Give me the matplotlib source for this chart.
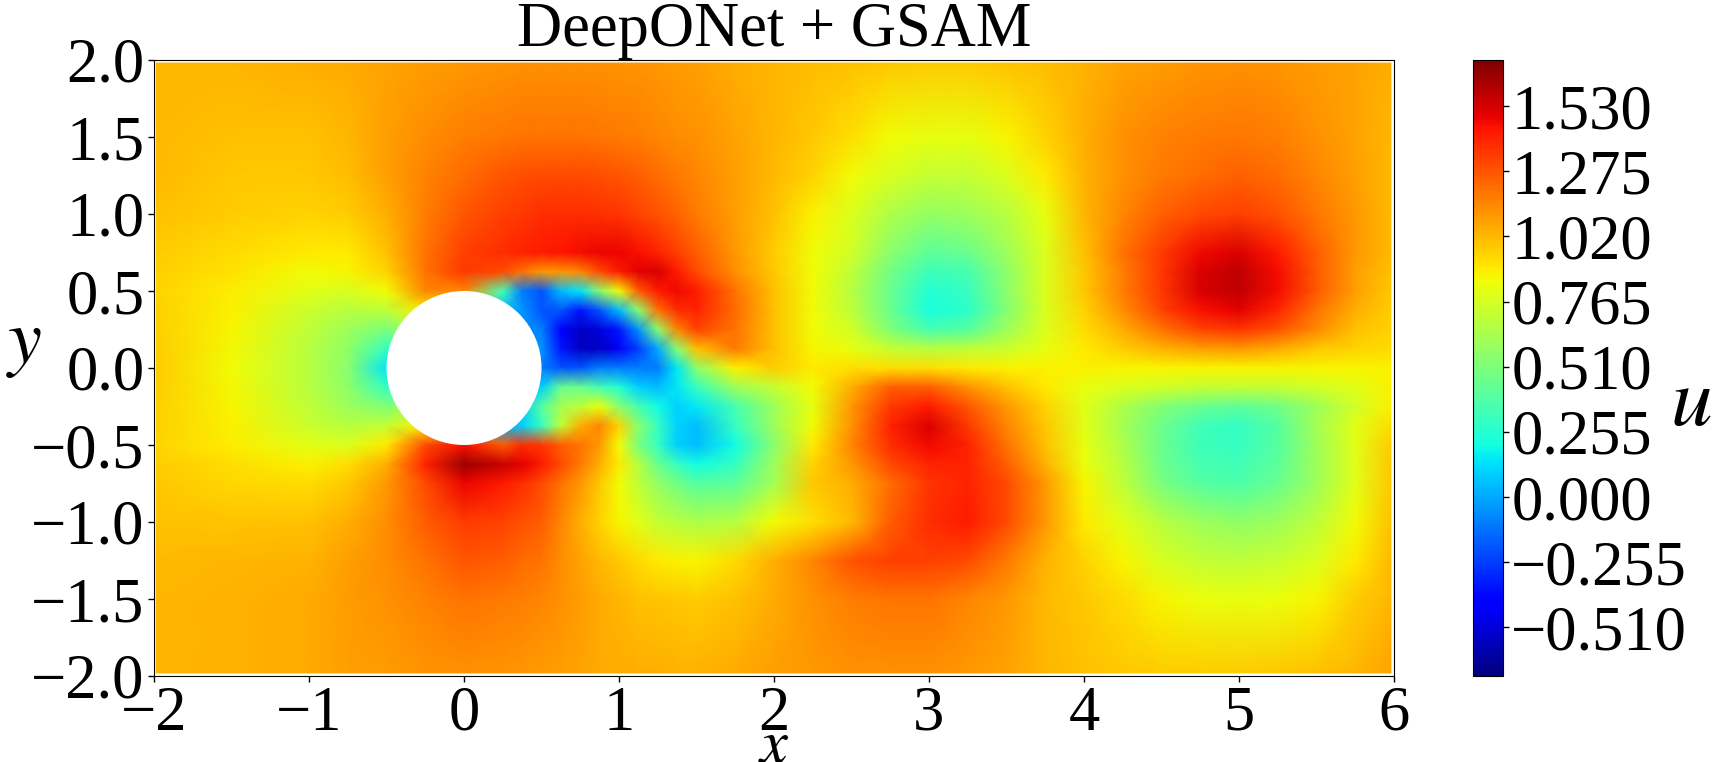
"""Velocity field u past a cylinder, DeepONet + GSAM prediction."""

import matplotlib

matplotlib.use("Agg")
import matplotlib.pyplot as plt
import numpy as np
from matplotlib.patches import Circle

plt.rcParams["font.family"] = ["Liberation Serif", "DejaVu Serif"]
plt.rcParams["mathtext.fontset"] = "stix"

# grid is finer around the cylinder and its wake, end values sit just inside the frame
x_grid = [-1.985, -1.5, -1, -0.75, -0.5, -0.25, 0, 0.25, 0.375, 0.5, 0.625, 0.75, 0.875, 1, 1.125, 1.25, 1.375, 1.5,
          1.75, 2, 2.25, 2.5, 2.75, 3, 3.25, 3.5, 3.75, 4, 4.25, 4.5, 4.75, 5, 5.25, 5.5, 5.75, 5.98]
y_grid = [1.98, 1.5, 1.25, 1, 0.75, 0.625, 0.5, 0.375, 0.25, 0.125, 0, -0.125, -0.25, -0.375, -0.5, -0.625, -0.75,
          -1, -1.25, -1.5, -1.98]

# u, one row per y_grid entry
u_rows = [
    [1.03, 1.03, 1.05, 1.06, 1.07, 1.09, 1.10, 1.11, 1.12, 1.12, 1.12, 1.12, 1.12, 1.11, 1.11, 1.10, 1.09, 1.08,
     1.05, 1.03, 1.01, 1.0, .98, .97, .97, .99, 1.01, 1.04, 1.07, 1.09, 1.11, 1.12, 1.11, 1.09, 1.07, 1.05],
    [1.02, 1.0, 1.0, 1.03, 1.08, 1.13, 1.17, 1.19, 1.2, 1.2, 1.2, 1.2, 1.19, 1.18, 1.17, 1.15, 1.13, 1.12,
     1.07, 1.03, .98, .92, .85, .82, .82, .87, .95, 1.05, 1.12, 1.16, 1.18, 1.19, 1.17, 1.12, 1.07, 1.03],
    [1.02, .98, .98, 1.01, 1.08, 1.16, 1.22, 1.27, 1.29, 1.3, 1.3, 1.3, 1.29, 1.27, 1.25, 1.22, 1.18, 1.15,
     1.08, 1.02, .95, .85, .77, .72, .72, .78, .9, 1.04, 1.12, 1.18, 1.22, 1.24, 1.22, 1.15, 1.08, 1.02],
    [1.0, .97, .95, .97, 1.05, 1.17, 1.27, 1.33, 1.35, 1.38, 1.38, 1.38, 1.37, 1.36, 1.32, 1.28, 1.23, 1.18,
     1.08, 1.0, .88, .78, .65, .58, .6, .68, .82, 1.03, 1.15, 1.24, 1.3, 1.33, 1.28, 1.19, 1.1, 1.02],
    [.97, .93, .9, .9, 1.0, 1.2, 1.33, 1.38, 1.4, 1.42, 1.44, 1.46, 1.48, 1.48, 1.45, 1.4, 1.33, 1.25,
     1.1, .97, .85, .75, .55, .42, .45, .6, .78, 1.0, 1.2, 1.34, 1.47, 1.52, 1.42, 1.25, 1.1, 1.02],
    [.96, .91, .85, .87, .95, 1.2, 1.35, 1.3, 1.2, 1.1, 1.1, 1.15, 1.3, 1.42, 1.5, 1.52, 1.42, 1.3,
     1.12, .98, .85, .7, .48, .32, .35, .56, .78, .98, 1.17, 1.35, 1.52, 1.57, 1.46, 1.26, 1.08, 1.0],
    [.95, .89, .8, .77, .85, 1.15, 1.15, .35, -.1, -.2, .05, .15, .55, .85, 1.25, 1.42, 1.47, 1.42,
     1.2, 1.0, .85, .68, .45, .25, .3, .55, .78, .98, 1.17, 1.35, 1.52, 1.57, 1.46, 1.26, 1.08, .98],
    [.96, .88, .74, .68, .7, .9, .9, .05, -.05, -.2, -.2, -.35, -.2, .05, .55, 1.2, 1.38, 1.4,
     1.22, 1.0, .85, .7, .45, .22, .27, .53, .78, .95, 1.13, 1.32, 1.45, 1.5, 1.39, 1.2, 1.05, .97],
    [.96, .87, .7, .6, .5, .7, .4, 0, -.05, -.1, -.42, -.55, -.5, -.35, -.05, .55, 1.15, 1.32,
     1.2, 1.0, .85, .75, .52, .35, .4, .6, .78, .92, 1.05, 1.2, 1.32, 1.36, 1.28, 1.14, 1.0, .95],
    [.97, .86, .68, .57, .3, .3, .2, 0, -.05, -.05, -.35, -.55, -.55, -.45, -.25, 0, .55, 1.0,
     1.18, 1.0, .87, .82, .72, .68, .7, .74, .82, .9, .97, 1.04, 1.08, 1.1, 1.06, .98, .95, .93],
    [.97, .85, .68, .55, .15, .1, .05, 0, -.05, -.1, -.2, -.2, -.1, -.1, -.1, -.1, .15, .55,
     .88, .97, .9, .92, .92, .92, .9, .88, .88, .88, .87, .87, .87, .87, .87, .87, .87, .88],
    [.97, .86, .68, .57, .3, .3, .2, .05, .05, .1, .45, .45, .35, .25, .1, .05, .15, .3,
     .6, .72, .85, 1.05, 1.25, 1.25, 1.12, 1.0, .9, .82, .78, .75, .72, .72, .72, .75, .8, .88],
    [.96, .87, .7, .6, .52, .7, .4, .1, .1, .4, .62, .7, .82, .55, .35, .2, .1, .15,
     .35, .6, .82, 1.1, 1.35, 1.42, 1.27, 1.1, .95, .8, .65, .53, .45, .42, .47, .6, .75, .88],
    [.96, .88, .74, .68, .72, .9, .6, 0, .1, .3, .7, 1.05, 1.15, .95, .55, .3, .1, .05,
     .3, .6, .85, 1.12, 1.4, 1.52, 1.35, 1.15, .98, .8, .62, .46, .33, .29, .4, .62, .8, .92],
    [.95, .89, .8, .78, .9, 1.3, 1.45, 1.25, 1.38, 1.35, 1.25, 1.2, 1.1, .85, .5, .3, .1, .05,
     .2, .55, .9, 1.15, 1.38, 1.47, 1.4, 1.2, 1.0, .82, .65, .45, .32, .3, .4, .6, .8, .97],
    [.97, .92, .88, .92, 1.05, 1.4, 1.65, 1.55, 1.5, 1.42, 1.3, 1.18, 1.05, .9, .68, .45, .3, .2,
     .3, .6, .95, 1.1, 1.3, 1.4, 1.4, 1.25, 1.04, .83, .68, .46, .35, .33, .42, .6, .8, .98],
    [.98, .94, .93, .98, 1.1, 1.3, 1.48, 1.42, 1.38, 1.3, 1.2, 1.1, .98, .85, .7, .58, .48, .4,
     .42, .62, .98, 1.05, 1.22, 1.36, 1.4, 1.3, 1.1, .87, .7, .5, .4, .37, .45, .6, .8, .98],
    [1.0, .99, 1.0, 1.05, 1.13, 1.25, 1.34, 1.32, 1.28, 1.25, 1.15, 1.05, .95, .87, .8, .72, .68, .65,
     .68, .85, .92, 1.02, 1.25, 1.38, 1.42, 1.3, 1.1, .9, .8, .68, .6, .57, .6, .7, .85, 1.0],
    [1.02, 1.03, 1.04, 1.08, 1.13, 1.2, 1.27, 1.25, 1.22, 1.2, 1.13, 1.07, 1.02, .98, .93, .9, .88, .87,
     .93, 1.05, 1.15, 1.28, 1.33, 1.33, 1.3, 1.18, 1.04, .95, .87, .77, .72, .7, .73, .78, .9, 1.02],
    [1.03, 1.04, 1.06, 1.09, 1.12, 1.16, 1.2, 1.18, 1.17, 1.15, 1.12, 1.09, 1.06, 1.03, 1.0, .99, .98, .97,
     1.0, 1.06, 1.12, 1.17, 1.2, 1.2, 1.15, 1.1, 1.02, .98, .93, .87, .83, .82, .83, .87, .97, 1.03],
    [1.03, 1.04, 1.06, 1.08, 1.09, 1.11, 1.12, 1.11, 1.1, 1.09, 1.08, 1.07, 1.06, 1.06, 1.05, 1.05, 1.04, 1.04,
     1.06, 1.08, 1.1, 1.12, 1.12, 1.12, 1.1, 1.07, 1.03, 1.0, .98, .97, .97, .97, .98, 1.0, 1.03, 1.07],
]

x_ticks = [-2, -1, 0, 1, 2, 3, 4, 5, 6]
y_ticks = [-2.0, -1.5, -1.0, -0.5, 0.0, 0.5, 1.0, 1.5, 2.0]
cbar_ticks = [-0.51, -0.255, 0.0, 0.255, 0.51, 0.765, 1.02, 1.275, 1.53]
u_min, u_max = -0.70, 1.71

W, H = 1714, 762
FONT = 45

fig = plt.figure(figsize=(W / 100, H / 100), dpi=100)
ax = fig.add_axes([154 / W, (H - 676) / H, (1394 - 154) / W, (676 - 60) / H])
cax = fig.add_axes([1473 / W, (H - 676) / H, 30 / W, (676 - 60) / H])

mesh = ax.pcolormesh(x_grid, y_grid, np.array(u_rows), cmap="jet", vmin=u_min, vmax=u_max, shading="gouraud")
ax.add_patch(Circle((0, 0), 0.5, facecolor="white", edgecolor="none", zorder=3))

ax.set_xlim(-2, 6)
ax.set_ylim(-2, 2)
ax.set_xticks(x_ticks)
ax.set_yticks(y_ticks)
ax.tick_params(labelsize=FONT, length=4, width=1, pad=3)
ax.set_title("DeepONet + GSAM", fontsize=FONT, pad=4)
ax.set_xlabel("$x$", fontsize=FONT, labelpad=-18)
fig.text(24 / W, (H - 345) / H, "$y$", fontsize=55, ha="center", va="center")

cbar = fig.colorbar(mesh, cax=cax, ticks=cbar_ticks)
cbar.ax.set_yticklabels([f"{t:.3f}".replace("-", "\u2212") for t in cbar_ticks])
cbar.ax.tick_params(labelsize=FONT, length=4, width=1, pad=2)
fig.text(1691 / W, (H - 405) / H, "$u$", fontsize=60, ha="center", va="center")

fig.savefig("out.png", dpi=100)
plt.close(fig)
